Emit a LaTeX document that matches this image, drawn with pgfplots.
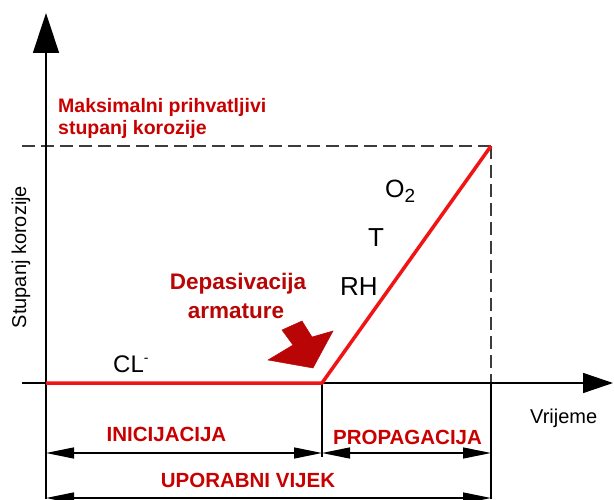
\documentclass[border=0pt]{standalone}
\usepackage{pgfplots}
\pgfplotsset{compat=1.18}
\usepackage{fontspec}
\setmainfont{Liberation Sans}
\usetikzlibrary{arrows.meta}
\definecolor{linered}{RGB}{240,20,20}
\definecolor{textred}{RGB}{200,0,0}
\definecolor{darkred}{RGB}{185,5,5}
\definecolor{dashgray}{RGB}{60,60,60}
\newcommand{\fs}[1]{\fontsize{#1}{#1}\selectfont}
\begin{document}
\begin{tikzpicture}
\begin{axis}[
  hide axis,
  scale only axis,
  width=614pt, height=499pt,
  xmin=-46, xmax=568, ymin=-116, ymax=383,
  clip=true,
]
% dashed limits
\addplot[dashgray, line width=1.2pt, dash pattern=on 13pt off 6pt] coordinates {(-24,237) (445,237)};
\addplot[dashgray, line width=1.2pt, dash pattern=on 13pt off 6pt] coordinates {(445,237) (445,0)};
% axes
\addplot[black, line width=1.5pt, -{Triangle[length=40pt,width=26pt]}] coordinates {(0,-116) (0,370)};
\addplot[black, line width=1.5pt, -{Triangle[length=30pt,width=20pt]}] coordinates {(-24,0) (567,0)};
% vertical separators
\addplot[black, line width=1.3pt] coordinates {(445,0) (445,-116)};
\addplot[black, line width=1.3pt] coordinates {(276,0) (276,-74)};
% dimension arrows
\addplot[black, line width=1.3pt, {Triangle[length=28pt,width=11pt]}-{Triangle[length=28pt,width=11pt]}] coordinates {(0,-70) (276,-70)};
\addplot[black, line width=1.3pt, {Triangle[length=28pt,width=11pt]}-{Triangle[length=28pt,width=11pt]}] coordinates {(276,-70) (445,-70)};
\addplot[black, line width=1.3pt, {Triangle[length=28pt,width=11pt]}-{Triangle[length=28pt,width=11pt]}] coordinates {(0,-115) (445,-115)};
% corrosion curve
\addplot[linered, line width=3.5pt, line join=round] coordinates {(0,0) (276,0) (445,237)};
% block arrow
\addplot[fill=darkred, draw=darkred, line width=0.5pt] coordinates {(236,53) (256,62) (266,46) (287,52) (267,15) (222,23) (247,38)} --cycle;
% texts
\node[anchor=base west, textred, font=\bfseries\fs{19.5}, inner sep=0pt] at (axis cs:12,270) {Maksimalni prihvatljivi};
\node[anchor=base west, textred, font=\bfseries\fs{19.5}, inner sep=0pt] at (axis cs:12,248) {stupanj korozije};
\node[rotate=90, font=\fs{20}, inner sep=0pt] at (axis cs:-25,126) {Stupanj korozije};
\node[anchor=base west, font=\fs{20}, inner sep=0pt] at (axis cs:484,-40) {Vrijeme};
\node[anchor=base, textred, font=\bfseries\fs{20.5}, inner sep=0pt] at (axis cs:120.5,-58) {INICIJACIJA};
\node[anchor=base, textred, font=\bfseries\fs{20.5}, inner sep=0pt] at (axis cs:361.5,-61) {PROPAGACIJA};
\node[anchor=base, textred, font=\bfseries\fs{20.5}, inner sep=0pt] at (axis cs:202,-104) {UPORABNI VIJEK};
\node[anchor=base, darkred, font=\bfseries\fs{22.5}, inner sep=0pt] at (axis cs:192,93) {Depasivacija};
\node[anchor=base, darkred, font=\bfseries\fs{22.5}, inner sep=0pt] at (axis cs:190,65) {armature};
\node[anchor=base west, font=\fs{25}, inner sep=0pt] at (axis cs:339,185) {O\raisebox{-5pt}{\fs{19}2}};
\node[anchor=base west, font=\fs{26}, inner sep=0pt] at (axis cs:322,136) {T};
\node[anchor=base west, font=\fs{26}, inner sep=0pt] at (axis cs:294,87) {RH};
\node[anchor=base west, font=\fs{24}, inner sep=0pt] at (axis cs:67,11) {CL\raisebox{10pt}{\fs{14}-}};
\end{axis}
\pgfresetboundingbox
\useasboundingbox (current axis.south west) rectangle (current axis.north east);
\end{tikzpicture}
\end{document}
